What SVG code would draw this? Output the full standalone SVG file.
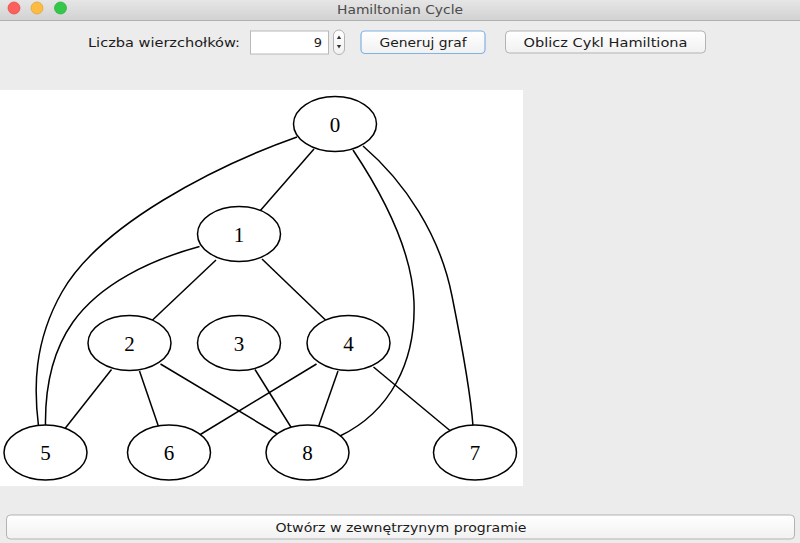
<svg xmlns="http://www.w3.org/2000/svg" width="800" height="543" viewBox="0 0 800 543">
  <defs>
    <linearGradient id="tb" x1="0" y1="0" x2="0" y2="1">
      <stop offset="0" stop-color="#e6e6e6"/>
      <stop offset="1" stop-color="#d2d2d2"/>
    </linearGradient>
    <linearGradient id="btn" x1="0" y1="0" x2="0" y2="1">
      <stop offset="0" stop-color="#ffffff"/>
      <stop offset="1" stop-color="#f1f1f1"/>
    </linearGradient>
    <style>
      .ui { font-family: "DejaVu Sans", "Noto Sans", sans-serif; font-size: 13px; fill: #1a1a1a; }
      .btn { fill: url(#btn); stroke: #b3b3b3; stroke-width: 1; }
      .node ellipse { fill: #ffffff; stroke: #000000; stroke-width: 1.5; }
      .node text { font-family: "Liberation Serif", "Times New Roman", serif; font-size: 21px; fill: #000000; text-anchor: middle; }
      #edges path, #edges line { fill: none; stroke: #000000; stroke-width: 1.5; }
    </style>
  </defs>

  <!-- window background -->
  <rect x="0" y="0" width="800" height="543" fill="#ececec"/>

  <!-- title bar -->
  <g id="titlebar">
    <rect x="0" y="0" width="800" height="20" fill="url(#tb)"/>
    <line x1="0" y1="20.5" x2="800" y2="20.5" stroke="#b1b1b1" stroke-width="1"/>
    <circle cx="14" cy="8" r="6" fill="#fc605c" stroke="#df4744" stroke-width="0.7"/>
    <circle cx="37" cy="8" r="6" fill="#fdbc40" stroke="#de9f34" stroke-width="0.7"/>
    <circle cx="60.5" cy="8" r="6" fill="#34c84a" stroke="#27aa35" stroke-width="0.7"/>
    <text x="400" y="13.5" text-anchor="middle" class="ui" fill="#4a4a4a" style="fill:#4a4a4a" textLength="126" lengthAdjust="spacingAndGlyphs">Hamiltonian Cycle</text>
  </g>

  <!-- top controls -->
  <g id="controls">
    <text x="88" y="47" class="ui" textLength="152" lengthAdjust="spacingAndGlyphs">Liczba wierzchołków:</text>
    <rect x="250.5" y="31" width="78" height="23" fill="#ffffff" stroke="#b8b8b8" stroke-width="1"/>
    <text x="322" y="47" class="ui" text-anchor="end">9</text>
    <rect x="333.5" y="30" width="11" height="24.5" rx="5.5" class="btn"/>
    <polygon points="339,35.5 336.8,39 341.2,39" fill="#333333"/>
    <polygon points="339,48.5 336.8,45 341.2,45" fill="#333333"/>
    <rect x="361" y="31" width="124" height="22.5" rx="4" fill="url(#btn)" stroke="#7fb2e5" stroke-width="1.2"/>
    <text x="423" y="47" class="ui" text-anchor="middle" textLength="87" lengthAdjust="spacingAndGlyphs">Generuj graf</text>
    <rect x="505.5" y="31" width="200" height="22" rx="4" class="btn"/>
    <text x="605.5" y="47" class="ui" text-anchor="middle" textLength="164" lengthAdjust="spacingAndGlyphs">Oblicz Cykl Hamiltiona</text>
  </g>

  <!-- graph panel -->
  <rect x="0" y="90" width="523" height="396" fill="#ffffff"/>

  <g id="edges">
    <line x1="314" y1="149" x2="259.5" y2="211.5"/>
    <path d="M297,137 C215,166 100,225 62,292 C33,343 34,390 38.5,426"/>
    <path d="M199.5,246.5 C150,260 100,284 73,322 C49,356 45,394 45.5,426"/>
    <path d="M353,150 C383,195 412,250 414,302 C416,362 390,412 340,436"/>
    <path d="M363,146 C405,182 440,235 452,296 C464,356 471,398 473,426"/>
    <line x1="216" y1="260" x2="152" y2="320.5"/>
    <line x1="262" y1="259" x2="326" y2="320.5"/>
    <line x1="111.5" y1="369.5" x2="65" y2="428.5"/>
    <line x1="139.5" y1="371" x2="159" y2="428"/>
    <line x1="160.5" y1="364" x2="279" y2="435"/>
    <line x1="255" y1="369.5" x2="291.5" y2="428"/>
    <line x1="316.5" y1="364" x2="199.5" y2="435"/>
    <line x1="338" y1="371" x2="318" y2="428"/>
    <line x1="373.5" y1="367" x2="450.5" y2="431"/>
  </g>

  <g id="node0" class="node"><ellipse cx="335" cy="124" rx="41.5" ry="27.5"/><text x="335" y="131.5">0</text></g>
  <g id="node1" class="node"><ellipse cx="239" cy="234" rx="41.5" ry="27.5"/><text x="239" y="241.5">1</text></g>
  <g id="node2" class="node"><ellipse cx="129.5" cy="343" rx="41.5" ry="27.5"/><text x="129.5" y="350.5">2</text></g>
  <g id="node3" class="node"><ellipse cx="239" cy="343" rx="41.5" ry="27.5"/><text x="239" y="350.5">3</text></g>
  <g id="node4" class="node"><ellipse cx="348.5" cy="343" rx="41.5" ry="27.5"/><text x="348.5" y="350.5">4</text></g>
  <g id="node5" class="node"><ellipse cx="45.5" cy="452.5" rx="41.5" ry="27.5"/><text x="45.5" y="460">5</text></g>
  <g id="node6" class="node"><ellipse cx="169" cy="452.5" rx="41.5" ry="27.5"/><text x="169" y="460">6</text></g>
  <g id="node8" class="node"><ellipse cx="307.5" cy="452.5" rx="41.5" ry="27.5"/><text x="307.5" y="460">8</text></g>
  <g id="node7" class="node"><ellipse cx="475" cy="452.5" rx="41.5" ry="27.5"/><text x="475" y="460">7</text></g>

  <!-- bottom button -->
  <g id="bottom">
    <rect x="6.5" y="515" width="788" height="24" rx="4" class="btn"/>
    <text x="401" y="532" class="ui" text-anchor="middle" textLength="251" lengthAdjust="spacingAndGlyphs">Otwórz w zewnętrzynym programie</text>
  </g>
</svg>
